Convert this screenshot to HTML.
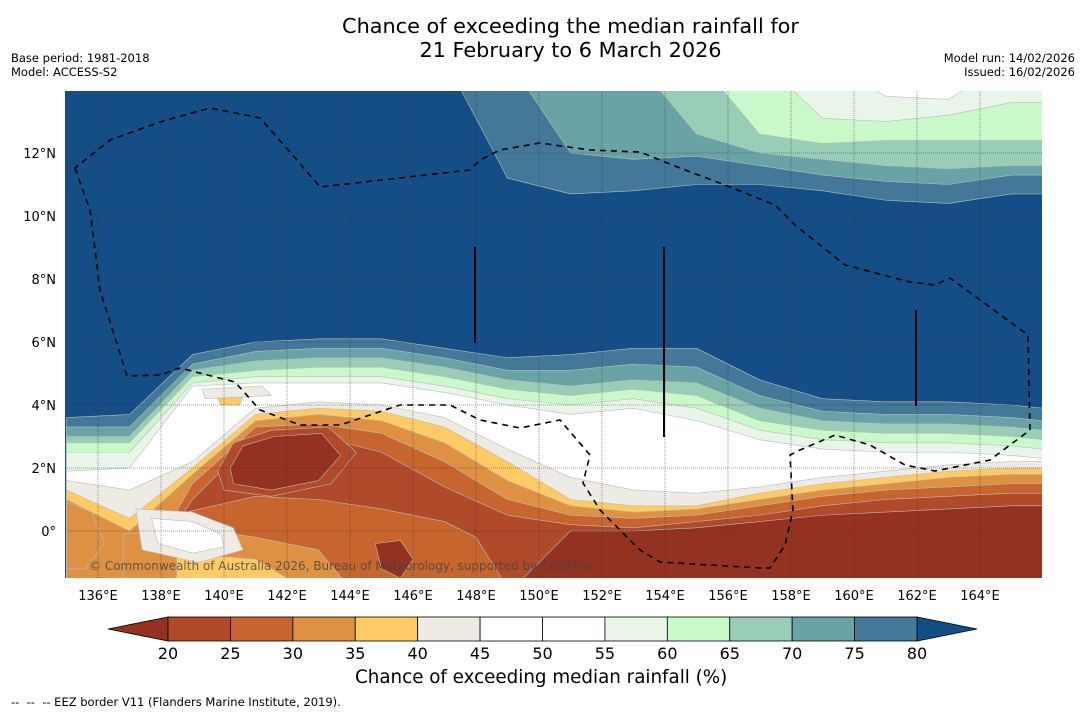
<!DOCTYPE html>
<html><head><meta charset="utf-8">
<style>
body{margin:0;background:#fff;font-family:"DejaVu Sans","Liberation Sans",sans-serif;}
#wrap{position:relative;width:1085px;height:713px;overflow:hidden;background:#fff}
.t{position:absolute;white-space:nowrap;color:#000}
</style></head><body>
<div id="wrap">
<div class="t" style="left:0;width:1141px;top:14px;text-align:center;font-size:20.8px;line-height:24px">Chance of exceeding the median rainfall for<br>21 February to 6 March 2026</div>
<div class="t" style="left:11px;top:51px;font-size:11.5px;line-height:14px">Base period: 1981-2018<br>Model: ACCESS-S2</div>
<div class="t" style="right:10px;top:51px;font-size:11.5px;line-height:14px;text-align:right">Model run: 14/02/2026<br>Issued: 16/02/2026</div>
<svg id="svg" width="1085" height="713" style="position:absolute;left:0;top:0"></svg>
<div class="t" style="left:355px;top:667px;font-size:18.3px">Chance of exceeding median rainfall (%)</div>
<div class="t" style="left:11px;top:695px;font-size:11.5px">-- &nbsp;-- &nbsp;-- EEZ border V11 (Flanders Marine Institute, 2019).</div>
</div>
<script>
const lons=[135,137,139,141,143,145,147,149,151,153,155,157,159,161,163,165,166];
// southern boundaries: latitude south of which value falls below threshold
const thresholdsS=[80,75,70,65,60,55,45,40,35,30,25,20];
const bS80=[3.6,3.7,5.6,6.0,6.1,6.1,5.8,5.5,5.6,5.8,5.8,4.8,4.2,4.1,4.1,4.0,3.9];
const bS75=[3.3,3.3,5.3,5.7,5.8,5.8,5.5,5.1,5.1,5.3,5.2,4.3,3.8,3.7,3.7,3.6,3.5];
const bS70=[3.0,3.0,5.1,5.4,5.5,5.5,5.2,4.8,4.6,4.8,4.7,3.9,3.5,3.4,3.4,3.3,3.2];
const bS65=[2.8,2.8,4.9,5.1,5.2,5.2,4.9,4.5,4.3,4.5,4.3,3.5,3.2,3.1,3.1,3.0,2.9];
const bS60=[2.5,2.5,4.7,4.9,4.9,4.9,4.6,4.2,4.0,4.2,3.9,3.2,2.9,2.8,2.8,2.7,2.6];
const bS55=[1.9,2.0,4.6,4.7,4.7,4.7,4.4,4.0,3.7,3.9,3.5,2.9,2.6,2.5,2.5,2.4,2.3];
const bS45=[1.6,1.3,2.2,3.9,4.1,4.0,3.6,2.6,1.7,1.3,1.2,1.4,1.7,1.9,2.1,2.2,2.2];
const bS40=[1.3,0.4,2.0,3.7,3.9,3.8,3.3,2.2,1.0,0.8,0.8,1.2,1.5,1.7,1.9,2.0,2.0];
const bS35=[1.0,0.0,1.8,3.5,3.7,3.5,2.8,1.6,0.8,0.6,0.7,1.0,1.3,1.5,1.7,1.8,1.8];
const bS30=[-2,-2,1.5,3.3,3.4,3.1,2.2,1.0,0.5,0.4,0.5,0.8,1.1,1.3,1.4,1.5,1.5];
const bS25=[-2,-2,1.0,3.0,3.0,2.5,1.4,0.5,0.2,0.1,0.3,0.5,0.8,1.0,1.1,1.2,1.2];
const bS20=[-2,-2,-2,-2,-2,-2,-2,-2,0.0,0.0,0.1,0.3,0.5,0.6,0.7,0.8,0.8];
// northern boundaries: latitude north of which value falls below threshold (99 = none)
const thresholdsN=[80,75,70,65,60,55];
const bN80=[99,99,99,99,99,99,99,11.2,10.7,10.8,11.0,11.0,10.8,10.5,10.4,10.7,10.7];
const bN75=[99,99,99,99,99,99,99,99,12.0,11.8,11.9,11.6,11.3,11.1,11.0,11.3,11.3];
const bN70=[99,99,99,99,99,99,99,99,99,99,12.6,12.0,11.8,11.6,11.5,11.6,11.6];
const bN65=[99,99,99,99,99,99,99,99,99,99,99,12.6,12.3,12.4,12.4,12.4,12.4];
const bN60=[99,99,99,99,99,99,99,99,99,99,99,99,13.1,13.0,13.2,13.6,13.6];
const bN55=[99,99,99,99,99,99,99,99,99,99,99,99,99,13.8,13.7,99,99];
const levels=[20,25,30,35,40,45,50,55,60,65,70,75,80];
const colors=["#933220","#b04a2a","#c8652f","#de9142","#fdca63","#eeebe4","#ffffff","#ffffff","#e8f5e8","#c9f9c9","#99cdb6","#6aa3a5","#447898","#154d87"];
const lonTicks=[136,138,140,142,144,146,148,150,152,154,156,158,160,162,164];
const latTicks=[0,2,4,6,8,10,12];

const svg=document.getElementById('svg');const NS="http://www.w3.org/2000/svg";
const X0=65,X1=1042,Y0=91,Y1=578;
const lx=l=>98+(l-136)*31.5;const ly=a=>531-a*31.5;
function colorBelow(t){return colors[levels.indexOf(t)];}
function mk(tag,at,parent){const e=document.createElementNS(NS,tag);for(const k in at)e.setAttribute(k,at[k]);(parent||svg).appendChild(e);return e;}
const defs=mk('defs',{});const cp=mk('clipPath',{id:'mc'},defs);mk('rect',{x:X0,y:Y0,width:X1-X0,height:Y1-Y0},cp);
const g=mk('g',{'clip-path':'url(#mc)'});
const bg=mk('rect',{x:X0,y:Y0,width:X1-X0,height:Y1-Y0,fill:colors[13]},g);


function pts(arr){return lons.map((l,i)=>[lx(l),ly(Math.min(arr[i],15))]);}
function band(arr,col,south,name){
  const p=pts(arr);let d='M'+p[0][0]+','+(south?700:0);
  p.forEach(q=>d+=' L'+q[0]+','+q[1]);d+=' L'+p[p.length-1][0]+','+(south?700:0)+'Z';
  const e=mk('path',{d:d,fill:col,stroke:'#bbb','stroke-width':0.6,'stroke-linejoin':'round'},g);
  
  
}
const sArr=[bS80,bS75,bS70,bS65,bS60,bS55,bS45,bS40,bS35,bS30,bS25,bS20];
thresholdsS.forEach((t,i)=>band(sArr[i],colorBelow(t),true,'south-band-'+t));
const nArr=[bN80,bN75,bN70,bN65,bN60,bN55];
thresholdsN.forEach((t,i)=>band(nArr[i],colorBelow(t),false,'north-band-'+t));
function blob(ll,col,name){
  const d='M'+ll.map(q=>lx(q[0])+','+ly(q[1])).join(' L')+'Z';
  const e=mk('path',{d:d,fill:col,stroke:'#bbb','stroke-width':0.6,'stroke-linejoin':'round'},g);
  
  
}
blob([[138.8,0.6],[141,1.1],[143,1.0],[145,0.7],[147,0.3],[148,-0.2],[149,-1.8],[138.8,-1.8]],colors[2],'south-orange-region');
blob([[136.8,-0.1],[139,0.1],[141,-0.2],[143,-0.6],[144,-1.8],[136.8,-1.8]],colors[3],'southwest-orange');
blob([[138.5,-0.7],[141,-0.9],[142.5,-1.8],[138.5,-1.8]],colors[4],'southwest-yellow');
blob([[137.2,0.7],[139,0.6],[140.3,0.1],[140.6,-0.6],[139.2,-1.0],[137.4,-0.6]],colors[5],'southwest-grey');
blob([[137.7,0.4],[139,0.3],[139.9,-0.1],[140,-0.5],[139,-0.7],[137.9,-0.4]],colors[6],'southwest-white');
blob([[135,0.9],[135.8,0.6],[136.2,-0.4],[135.6,-1.2],[135,-1.2]],colors[3],'west-edge-orange');
blob([[139.8,1.9],[140.3,2.8],[141.5,3.2],[143.3,3.3],[144.2,2.5],[143.4,1.5],[141.5,1.1],[140,1.3]],colors[1],'core-ring');
blob([[140.2,2.0],[140.6,2.7],[141.6,3.0],[143.1,3.1],[143.7,2.4],[143.0,1.6],[141.5,1.3],[140.3,1.5]],colors[0],'dry-core');
blob([[144.8,-0.4],[145.6,-0.3],[146,-0.9],[145.6,-1.5],[145,-1.2]],colors[0],'south-dry-patch');
blob([[139.3,4.5],[141.2,4.6],[141.5,4.3],[139.4,4.2]],colors[5],'grey-islet');
blob([[139.8,4.2],[140.6,4.25],[140.5,4.0],[139.9,4.0]],colors[4],'yellow-islet');
// graticule
lonTicks.forEach(l=>{const e=mk('line',{x1:lx(l),x2:lx(l),y1:Y0,y2:Y1,stroke:'#333','stroke-width':0.8,'stroke-dasharray':'1,1',opacity:0.6});});
latTicks.forEach(a=>{const e=mk('line',{x1:X0,x2:X1,y1:ly(a),y2:ly(a),stroke:'#333','stroke-width':0.8,'stroke-dasharray':'1,1',opacity:0.6});});
// EEZ border
const eez=mk('path',{d:'M75,168 L90,210 L100,290 L127,376 L160,375 L180,368 L235,382 L260,410 L300,425 L340,425 L400,405 L450,405 L480,420 L520,428 L560,420 L590,455 L583,483 L600,510 L640,550 L660,562 L760,568 L770,568 L785,545 L793,510 L790,455 L800,450 L835,435 L870,445 L905,465 L935,471 L990,460 L1030,430 L1028,335 L950,278 L935,285 L910,282 L845,265 L795,225 L775,205 L725,185 L680,168 L640,152 L590,150 L540,143 L500,150 L480,160 L470,170 L320,187 L290,152 L260,118 L210,108 L160,122 L110,140 Z',fill:'none',stroke:'#000','stroke-width':1.6,'stroke-dasharray':'6,5'},g);


[[475,247,343],[664,247,437],[916,310,406]].forEach((v,i)=>{const e=mk('line',{x1:v[0],x2:v[0],y1:v[1],y2:v[2],stroke:'#000','stroke-width':2},g);});
const cr=mk('text',{x:89,y:570,'font-size':12,fill:'#444','font-family':'DejaVu Sans, sans-serif',opacity:0.8},g);cr.textContent='© Commonwealth of Australia 2026, Bureau of Meteorology, supported by COSPPac';


// ticks
lonTicks.forEach(l=>{const t=mk('text',{x:lx(l),y:600,'font-size':13,'text-anchor':'middle','font-family':'DejaVu Sans, sans-serif'});t.textContent=l+'°E';});
latTicks.forEach(a=>{const t=mk('text',{x:56,y:ly(a)+5,'font-size':13,'text-anchor':'end','font-family':'DejaVu Sans, sans-serif'});t.textContent=a===0?'0°':a+'°N';});
// colorbar
const cbx=v=>168+(v-20)*(917-168)/60;const cy0=617,cy1=641;
const lt=mk('polygon',{points:`108,629 ${cbx(20)},${cy0} ${cbx(20)},${cy1}`,fill:colors[0],stroke:'#000','stroke-width':0.8});

const rt=mk('polygon',{points:`977,629 ${cbx(80)},${cy0} ${cbx(80)},${cy1}`,fill:colors[13],stroke:'#000','stroke-width':0.8});

for(let i=0;i<levels.length-1;i++){const r=mk('rect',{x:cbx(levels[i]),y:cy0,width:cbx(levels[i+1])-cbx(levels[i]),height:cy1-cy0,fill:colors[i+1],stroke:'#000','stroke-width':0.8});}
levels.forEach(v=>{const t=mk('text',{x:cbx(v),y:659,'font-size':16,'text-anchor':'middle','font-family':'DejaVu Sans, sans-serif'});t.textContent=v;});
</script>
</body></html>
